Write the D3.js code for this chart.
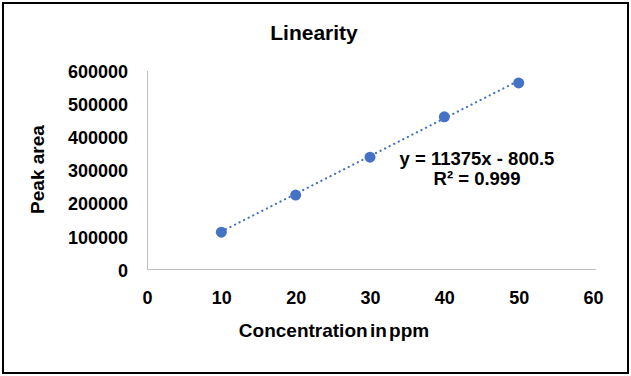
<!DOCTYPE html>
<html>
<head>
    <meta charset="utf-8" />
    <style>
        body { margin: 0; background: #fff; }
        svg text { font-family: "Liberation Sans", Arial, sans-serif; font-weight: bold; fill: #000; }
        .axis path, .axis line { stroke: #bfbfbf; shape-rendering: crispEdges; }
        .axis text { font-size: 18px; }
    </style>
    <script src="https://d3js.org/d3.v7.min.js"></script>
</head>
<body>
<script>

// data
let concentration = [10, 20, 30, 40, 50];
let peakArea = [111000, 223000, 337000, 459000, 561000];
let xTicks = [0, 10, 20, 30, 40, 50, 60];
let yTicks = [0, 100000, 200000, 300000, 400000, 500000, 600000];
let slope = 11375, intercept = -800.5;

let W = 631, H = 376;
let margin = { top: 70, right: 38, bottom: 107, left: 147 };
let w = W - margin.left - margin.right,
    h = H - margin.top - margin.bottom;

let svg = d3.select("body").append("svg")
    .attr("width", W)
    .attr("height", H);

// outer frame
svg.append("rect")
    .attr("x", 3).attr("y", 3)
    .attr("width", W - 6).attr("height", H - 6)
    .attr("fill", "#fff")
    .attr("stroke", "#000")
    .attr("stroke-width", 2);

let g = svg.append("g")
    .attr("transform", "translate(" + margin.left + "," + margin.top + ")");

let xScale = d3.scaleLinear().domain([0, 60]).range([0, w]);
let yScale = d3.scaleLinear().domain([0, 600000]).range([h, 0]);

// axes
let xAxis = g.append("g")
    .attr("class", "axis")
    .attr("transform", "translate(0," + h + ")")
    .call(d3.axisBottom(xScale).tickValues(xTicks).tickSize(0).tickPadding(22).tickFormat(d3.format("d")));
xAxis.select(".domain").attr("d", "M0,0.5H" + (w + 3));

let yAxis = g.append("g")
    .attr("class", "axis")
    .call(d3.axisLeft(yScale).tickValues(yTicks).tickSize(0).tickPadding(19).tickFormat(d3.format("d")));
yAxis.selectAll("text").attr("dy", "0.4em");

// trendline
let line = d3.line()
    .x(d => xScale(d))
    .y(d => yScale(slope * d + intercept));

g.append("path")
    .datum([concentration[0], concentration[concentration.length - 1]])
    .attr("d", line)
    .attr("fill", "none")
    .attr("stroke", "#4472c4")
    .attr("stroke-width", 2.2)
    .attr("stroke-linecap", "round")
    .attr("stroke-dasharray", "0.1,5");

// points
g.selectAll("circle")
    .data(concentration)
    .enter()
    .append("circle")
    .attr("cx", d => xScale(d))
    .attr("cy", (d, i) => yScale(peakArea[i]))
    .attr("r", 5.5)
    .attr("fill", "#4472c4");

// title
svg.append("text")
    .attr("x", 314).attr("y", 40)
    .attr("text-anchor", "middle")
    .style("font-size", "21px")
    .text("Linearity");

// axis titles
svg.append("text")
    .attr("transform", "translate(44," + (margin.top + h / 2) + ") rotate(-90)")
    .attr("text-anchor", "middle")
    .style("font-size", "19px")
    .text("Peak area");

svg.append("text")
    .attr("x", 334).attr("y", 337)
    .attr("text-anchor", "middle")
    .style("font-size", "19px")
    .style("word-spacing", "-3px")
    .text("Concentration in ppm");

// equation
svg.append("text")
    .attr("x", 477).attr("y", 165)
    .attr("text-anchor", "middle")
    .style("font-size", "18.5px")
    .text("y = 11375x - 800.5");

svg.append("text")
    .attr("x", 477).attr("y", 185)
    .attr("text-anchor", "middle")
    .style("font-size", "18.5px")
    .text("R² = 0.999");

</script>
</body>
</html>
